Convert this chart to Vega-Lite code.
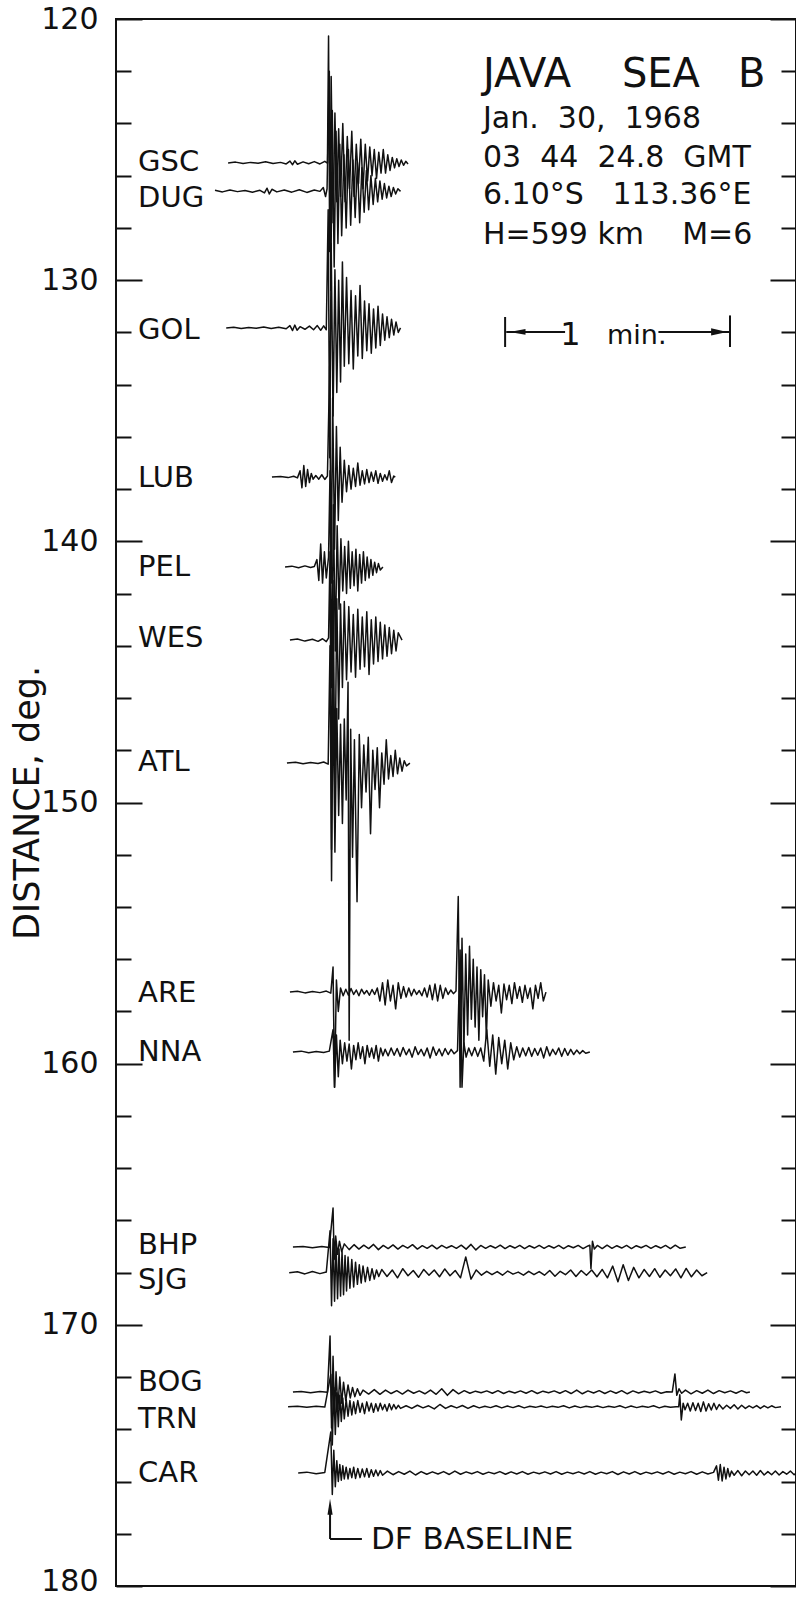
{
"$schema":"https://vega.github.io/schema/vega-lite/v6.json",
"width":680,"height":1567,
"autosize":{"type":"none"},
"padding":{"left":116,"top":19,"right":0,"bottom":14},
"background":"white",
"config":{"view":{"stroke":"#111","strokeWidth":2},"font":"DejaVu Sans"},
"resolve":{"axis":{"y":"independent"}},
"layer":[
{"data":{"values":[
{"s":"GSC","t":-28,"d":125.51},{"s":"GSC","t":-26,"d":125.48},{"s":"GSC","t":-24,"d":125.53},{"s":"GSC","t":-22,"d":125.49},{"s":"GSC","t":-20,"d":125.52},{"s":"GSC","t":-18,"d":125.47},{"s":"GSC","t":-16,"d":125.53},{"s":"GSC","t":-14,"d":125.49},{"s":"GSC","t":-12.5,"d":125.55},{"s":"GSC","t":-11.5,"d":125.44},{"s":"GSC","t":-10.8,"d":125.58},{"s":"GSC","t":-10.2,"d":125.43},{"s":"GSC","t":-9.5,"d":125.56},{"s":"GSC","t":-8,"d":125.47},{"s":"GSC","t":-6.5,"d":125.54},{"s":"GSC","t":-5,"d":125.46},{"s":"GSC","t":-3.5,"d":125.55},{"s":"GSC","t":-2.2,"d":125.45},{"s":"GSC","t":-1.5,"d":125.52},{"s":"GSC","t":-1.2,"d":120.65},{"s":"GSC","t":-0.9,"d":128.9},{"s":"GSC","t":-0.5,"d":122.2},{"s":"GSC","t":0,"d":127.8},{"s":"GSC","t":0.5,"d":123.6},{"s":"GSC","t":1,"d":127.0},{"s":"GSC","t":1.5,"d":124.2},{"s":"GSC","t":2,"d":126.8},{"s":"GSC","t":2.6,"d":124.0},{"s":"GSC","t":3.2,"d":127.0},{"s":"GSC","t":3.8,"d":124.5},{"s":"GSC","t":4.4,"d":126.5},{"s":"GSC","t":5,"d":124.3},{"s":"GSC","t":5.6,"d":126.8},{"s":"GSC","t":6.2,"d":124.8},{"s":"GSC","t":6.8,"d":126.3},{"s":"GSC","t":7.4,"d":124.6},{"s":"GSC","t":8,"d":126.5},{"s":"GSC","t":8.6,"d":124.8},{"s":"GSC","t":9.2,"d":126.2},{"s":"GSC","t":9.8,"d":124.9},{"s":"GSC","t":10.4,"d":126.0},{"s":"GSC","t":11,"d":125.0},{"s":"GSC","t":11.6,"d":126.1},{"s":"GSC","t":12.2,"d":125.1},{"s":"GSC","t":12.8,"d":125.9},{"s":"GSC","t":13.4,"d":125.0},{"s":"GSC","t":14,"d":125.9},{"s":"GSC","t":14.6,"d":125.2},{"s":"GSC","t":15.2,"d":125.8},{"s":"GSC","t":15.8,"d":125.3},{"s":"GSC","t":16.4,"d":125.7},{"s":"GSC","t":17,"d":125.35},{"s":"GSC","t":17.6,"d":125.65},{"s":"GSC","t":18.2,"d":125.4},{"s":"GSC","t":18.8,"d":125.6},{"s":"GSC","t":19.4,"d":125.45},{"s":"GSC","t":20,"d":125.55},
{"s":"DUG","t":-31.5,"d":126.56},{"s":"DUG","t":-29.5,"d":126.62},{"s":"DUG","t":-27.5,"d":126.55},{"s":"DUG","t":-25.5,"d":126.61},{"s":"DUG","t":-23.5,"d":126.57},{"s":"DUG","t":-21.5,"d":126.63},{"s":"DUG","t":-19.5,"d":126.56},{"s":"DUG","t":-18.3,"d":126.66},{"s":"DUG","t":-17.6,"d":126.48},{"s":"DUG","t":-17,"d":126.7},{"s":"DUG","t":-16.3,"d":126.52},{"s":"DUG","t":-15,"d":126.62},{"s":"DUG","t":-13,"d":126.55},{"s":"DUG","t":-11,"d":126.63},{"s":"DUG","t":-9,"d":126.54},{"s":"DUG","t":-7,"d":126.64},{"s":"DUG","t":-5,"d":126.55},{"s":"DUG","t":-3.5,"d":126.6},{"s":"DUG","t":-2.6,"d":126.45},{"s":"DUG","t":-2,"d":126.8},{"s":"DUG","t":-1.6,"d":126.5},{"s":"DUG","t":-1,"d":122.0},{"s":"DUG","t":-0.6,"d":130.4},{"s":"DUG","t":-0.2,"d":123.5},{"s":"DUG","t":0.3,"d":129.5},{"s":"DUG","t":0.8,"d":124.3},{"s":"DUG","t":1.3,"d":128.6},{"s":"DUG","t":1.8,"d":124.8},{"s":"DUG","t":2.3,"d":128.3},{"s":"DUG","t":2.9,"d":125.2},{"s":"DUG","t":3.5,"d":128.0},{"s":"DUG","t":4.1,"d":125.0},{"s":"DUG","t":4.7,"d":127.9},{"s":"DUG","t":5.3,"d":125.4},{"s":"DUG","t":5.9,"d":127.6},{"s":"DUG","t":6.5,"d":125.5},{"s":"DUG","t":7.1,"d":127.8},{"s":"DUG","t":7.7,"d":125.7},{"s":"DUG","t":8.3,"d":127.4},{"s":"DUG","t":8.9,"d":125.8},{"s":"DUG","t":9.5,"d":127.3},{"s":"DUG","t":10.1,"d":126.0},{"s":"DUG","t":10.7,"d":127.1},{"s":"DUG","t":11.3,"d":126.1},{"s":"DUG","t":11.9,"d":127.0},{"s":"DUG","t":12.5,"d":126.2},{"s":"DUG","t":13.1,"d":126.9},{"s":"DUG","t":13.7,"d":126.3},{"s":"DUG","t":14.3,"d":126.85},{"s":"DUG","t":14.9,"d":126.4},{"s":"DUG","t":15.5,"d":126.8},{"s":"DUG","t":16.1,"d":126.45},{"s":"DUG","t":16.7,"d":126.7},{"s":"DUG","t":17.3,"d":126.5},{"s":"DUG","t":18,"d":126.6},
{"s":"GOL","t":-28.5,"d":131.83},{"s":"GOL","t":-26.5,"d":131.8},{"s":"GOL","t":-24.5,"d":131.85},{"s":"GOL","t":-22.5,"d":131.81},{"s":"GOL","t":-20.5,"d":131.84},{"s":"GOL","t":-18.5,"d":131.79},{"s":"GOL","t":-16.5,"d":131.85},{"s":"GOL","t":-14.5,"d":131.8},{"s":"GOL","t":-12.5,"d":131.86},{"s":"GOL","t":-11.5,"d":131.74},{"s":"GOL","t":-10.8,"d":131.93},{"s":"GOL","t":-10.2,"d":131.72},{"s":"GOL","t":-9.6,"d":131.92},{"s":"GOL","t":-8.8,"d":131.78},{"s":"GOL","t":-7.5,"d":131.88},{"s":"GOL","t":-6.3,"d":131.76},{"s":"GOL","t":-5.2,"d":131.9},{"s":"GOL","t":-4.2,"d":131.74},{"s":"GOL","t":-3.3,"d":131.92},{"s":"GOL","t":-2.5,"d":131.75},{"s":"GOL","t":-1.8,"d":131.9},{"s":"GOL","t":-1.3,"d":127.3},{"s":"GOL","t":-0.9,"d":136.8},{"s":"GOL","t":-0.5,"d":128.6},{"s":"GOL","t":0,"d":135.2},{"s":"GOL","t":0.5,"d":129.6},{"s":"GOL","t":1,"d":134.3},{"s":"GOL","t":1.5,"d":130.0},{"s":"GOL","t":2,"d":133.9},{"s":"GOL","t":2.5,"d":129.3},{"s":"GOL","t":3,"d":133.3},{"s":"GOL","t":3.6,"d":129.9},{"s":"GOL","t":4.2,"d":133.2},{"s":"GOL","t":4.8,"d":130.4},{"s":"GOL","t":5.4,"d":133.4},{"s":"GOL","t":6,"d":130.6},{"s":"GOL","t":6.6,"d":132.9},{"s":"GOL","t":7.2,"d":130.2},{"s":"GOL","t":7.8,"d":133.0},{"s":"GOL","t":8.4,"d":130.8},{"s":"GOL","t":9,"d":132.7},{"s":"GOL","t":9.6,"d":130.9},{"s":"GOL","t":10.2,"d":132.8},{"s":"GOL","t":10.8,"d":131.1},{"s":"GOL","t":11.4,"d":132.6},{"s":"GOL","t":12,"d":131.0},{"s":"GOL","t":12.6,"d":132.5},{"s":"GOL","t":13.2,"d":131.3},{"s":"GOL","t":13.8,"d":132.3},{"s":"GOL","t":14.4,"d":131.4},{"s":"GOL","t":15,"d":132.2},{"s":"GOL","t":15.6,"d":131.5},{"s":"GOL","t":16.2,"d":132.1},{"s":"GOL","t":16.8,"d":131.6},{"s":"GOL","t":17.4,"d":132.0},{"s":"GOL","t":18,"d":131.83},
{"s":"LUB","t":-16.3,"d":137.54},{"s":"LUB","t":-14,"d":137.52},{"s":"LUB","t":-12,"d":137.56},{"s":"LUB","t":-10.5,"d":137.51},{"s":"LUB","t":-9.5,"d":137.57},{"s":"LUB","t":-8.8,"d":137.3},{"s":"LUB","t":-8.3,"d":137.95},{"s":"LUB","t":-7.8,"d":137.1},{"s":"LUB","t":-7.3,"d":137.9},{"s":"LUB","t":-6.8,"d":137.25},{"s":"LUB","t":-6.3,"d":137.75},{"s":"LUB","t":-5.8,"d":137.4},{"s":"LUB","t":-5.3,"d":137.62},{"s":"LUB","t":-4.6,"d":137.48},{"s":"LUB","t":-3.8,"d":137.62},{"s":"LUB","t":-3,"d":137.45},{"s":"LUB","t":-2.2,"d":137.63},{"s":"LUB","t":-1.5,"d":137.5},{"s":"LUB","t":-0.9,"d":133.3},{"s":"LUB","t":-0.5,"d":141.6},{"s":"LUB","t":-0.1,"d":134.5},{"s":"LUB","t":0.4,"d":140.3},{"s":"LUB","t":0.9,"d":135.6},{"s":"LUB","t":1.4,"d":139.2},{"s":"LUB","t":1.9,"d":136.4},{"s":"LUB","t":2.4,"d":138.5},{"s":"LUB","t":3,"d":136.9},{"s":"LUB","t":3.6,"d":138.1},{"s":"LUB","t":4.2,"d":137.1},{"s":"LUB","t":4.8,"d":138.0},{"s":"LUB","t":5.4,"d":137.2},{"s":"LUB","t":6,"d":137.9},{"s":"LUB","t":6.6,"d":137.0},{"s":"LUB","t":7.2,"d":137.85},{"s":"LUB","t":7.8,"d":137.3},{"s":"LUB","t":8.4,"d":137.8},{"s":"LUB","t":9,"d":137.25},{"s":"LUB","t":9.6,"d":137.75},{"s":"LUB","t":10.2,"d":137.35},{"s":"LUB","t":10.8,"d":137.7},{"s":"LUB","t":11.4,"d":137.3},{"s":"LUB","t":12,"d":137.78},{"s":"LUB","t":12.6,"d":137.4},{"s":"LUB","t":13.2,"d":137.7},{"s":"LUB","t":13.8,"d":137.45},{"s":"LUB","t":14.4,"d":137.65},{"s":"LUB","t":15,"d":137.3},{"s":"LUB","t":15.6,"d":137.75},{"s":"LUB","t":16.2,"d":137.5},{"s":"LUB","t":16.6,"d":137.54},
{"s":"PEL","t":-12.8,"d":140.98},{"s":"PEL","t":-11,"d":140.95},{"s":"PEL","t":-9.2,"d":141.01},{"s":"PEL","t":-7.5,"d":140.94},{"s":"PEL","t":-6,"d":141.0},{"s":"PEL","t":-5,"d":140.96},{"s":"PEL","t":-4.3,"d":140.7},{"s":"PEL","t":-3.8,"d":141.5},{"s":"PEL","t":-3.3,"d":140.1},{"s":"PEL","t":-2.8,"d":141.6},{"s":"PEL","t":-2.3,"d":140.4},{"s":"PEL","t":-1.8,"d":141.4},{"s":"PEL","t":-1.2,"d":140.6},{"s":"PEL","t":-0.8,"d":137.3},{"s":"PEL","t":-0.4,"d":145.6},{"s":"PEL","t":0.1,"d":138.6},{"s":"PEL","t":0.6,"d":144.2},{"s":"PEL","t":1.1,"d":139.4},{"s":"PEL","t":1.6,"d":142.6},{"s":"PEL","t":2.1,"d":139.9},{"s":"PEL","t":2.6,"d":141.9},{"s":"PEL","t":3.1,"d":140.2},{"s":"PEL","t":3.6,"d":142.0},{"s":"PEL","t":4.1,"d":140.0},{"s":"PEL","t":4.6,"d":141.8},{"s":"PEL","t":5.1,"d":140.4},{"s":"PEL","t":5.6,"d":141.7},{"s":"PEL","t":6.1,"d":140.3},{"s":"PEL","t":6.6,"d":141.9},{"s":"PEL","t":7.1,"d":140.5},{"s":"PEL","t":7.6,"d":141.6},{"s":"PEL","t":8.1,"d":140.4},{"s":"PEL","t":8.6,"d":141.5},{"s":"PEL","t":9.1,"d":140.6},{"s":"PEL","t":9.6,"d":141.4},{"s":"PEL","t":10.1,"d":140.7},{"s":"PEL","t":10.6,"d":141.3},{"s":"PEL","t":11.1,"d":140.8},{"s":"PEL","t":11.6,"d":141.2},{"s":"PEL","t":12.1,"d":140.85},{"s":"PEL","t":12.6,"d":141.1},{"s":"PEL","t":13.3,"d":140.98},
{"s":"WES","t":-11.5,"d":143.78},{"s":"WES","t":-9.5,"d":143.74},{"s":"WES","t":-7.5,"d":143.82},{"s":"WES","t":-5.5,"d":143.75},{"s":"WES","t":-4,"d":143.83},{"s":"WES","t":-2.8,"d":143.73},{"s":"WES","t":-1.8,"d":143.84},{"s":"WES","t":-1.2,"d":143.7},{"s":"WES","t":-0.8,"d":140.4},{"s":"WES","t":-0.4,"d":151.8},{"s":"WES","t":0,"d":141.5},{"s":"WES","t":0.5,"d":149.5},{"s":"WES","t":1,"d":142.2},{"s":"WES","t":1.5,"d":146.8},{"s":"WES","t":2,"d":142.4},{"s":"WES","t":2.5,"d":145.6},{"s":"WES","t":3,"d":142.3},{"s":"WES","t":3.6,"d":145.3},{"s":"WES","t":4.2,"d":142.5},{"s":"WES","t":4.8,"d":145.0},{"s":"WES","t":5.4,"d":142.8},{"s":"WES","t":6,"d":145.2},{"s":"WES","t":6.6,"d":142.6},{"s":"WES","t":7.2,"d":144.9},{"s":"WES","t":7.8,"d":142.9},{"s":"WES","t":8.4,"d":144.8},{"s":"WES","t":9,"d":142.7},{"s":"WES","t":9.6,"d":145.1},{"s":"WES","t":10.2,"d":143.0},{"s":"WES","t":10.8,"d":144.7},{"s":"WES","t":11.4,"d":142.9},{"s":"WES","t":12,"d":144.6},{"s":"WES","t":12.6,"d":143.1},{"s":"WES","t":13.2,"d":144.5},{"s":"WES","t":13.8,"d":143.2},{"s":"WES","t":14.4,"d":144.4},{"s":"WES","t":15,"d":143.3},{"s":"WES","t":15.6,"d":144.3},{"s":"WES","t":16.2,"d":143.4},{"s":"WES","t":16.8,"d":144.2},{"s":"WES","t":17.4,"d":143.5},{"s":"WES","t":18.4,"d":143.78},
{"s":"ATL","t":-12.3,"d":148.49},{"s":"ATL","t":-10,"d":148.46},{"s":"ATL","t":-8,"d":148.52},{"s":"ATL","t":-6,"d":148.47},{"s":"ATL","t":-4,"d":148.51},{"s":"ATL","t":-2.5,"d":148.45},{"s":"ATL","t":-1.3,"d":148.53},{"s":"ATL","t":-0.8,"d":144.0},{"s":"ATL","t":-0.4,"d":153.0},{"s":"ATL","t":0,"d":145.5},{"s":"ATL","t":0.5,"d":151.9},{"s":"ATL","t":1,"d":146.4},{"s":"ATL","t":1.5,"d":150.5},{"s":"ATL","t":2,"d":147.0},{"s":"ATL","t":2.5,"d":150.8},{"s":"ATL","t":3,"d":146.8},{"s":"ATL","t":3.5,"d":149.9},{"s":"ATL","t":4,"d":145.4},{"s":"ATL","t":4.3,"d":159.1},{"s":"ATL","t":4.7,"d":147.2},{"s":"ATL","t":5.2,"d":152.1},{"s":"ATL","t":5.7,"d":147.6},{"s":"ATL","t":6.4,"d":153.8},{"s":"ATL","t":7,"d":147.4},{"s":"ATL","t":7.6,"d":150.2},{"s":"ATL","t":8.2,"d":147.8},{"s":"ATL","t":8.8,"d":149.6},{"s":"ATL","t":9.4,"d":147.5},{"s":"ATL","t":10,"d":151.2},{"s":"ATL","t":10.6,"d":148.0},{"s":"ATL","t":11.2,"d":149.5},{"s":"ATL","t":11.8,"d":147.9},{"s":"ATL","t":12.4,"d":150.2},{"s":"ATL","t":13,"d":148.1},{"s":"ATL","t":13.6,"d":149.3},{"s":"ATL","t":14.2,"d":147.6},{"s":"ATL","t":14.8,"d":149.1},{"s":"ATL","t":15.4,"d":148.2},{"s":"ATL","t":16,"d":149.0},{"s":"ATL","t":16.6,"d":148.0},{"s":"ATL","t":17.2,"d":148.9},{"s":"ATL","t":17.8,"d":148.3},{"s":"ATL","t":18.4,"d":148.8},{"s":"ATL","t":19,"d":148.4},{"s":"ATL","t":19.6,"d":148.6},{"s":"ATL","t":20.5,"d":148.49},
{"s":"ARE","t":-11.5,"d":157.26},{"s":"ARE","t":-9.5,"d":157.23},{"s":"ARE","t":-7.5,"d":157.29},{"s":"ARE","t":-5.5,"d":157.24},{"s":"ARE","t":-3.5,"d":157.28},{"s":"ARE","t":-1.8,"d":157.22},{"s":"ARE","t":-0.6,"d":157.3},{"s":"ARE","t":0,"d":156.3},{"s":"ARE","t":0.4,"d":160.9},{"s":"ARE","t":0.9,"d":156.8},{"s":"ARE","t":1.4,"d":158.0},{"s":"ARE","t":2,"d":157.1},{"s":"ARE","t":2.7,"d":157.4},{"s":"ARE","t":3.4,"d":157.15},{"s":"ARE","t":4.1,"d":157.38},{"s":"ARE","t":4.8,"d":157.12},{"s":"ARE","t":5.5,"d":157.35},{"s":"ARE","t":6.2,"d":157.18},{"s":"ARE","t":6.9,"d":157.4},{"s":"ARE","t":7.6,"d":157.15},{"s":"ARE","t":8.3,"d":157.33},{"s":"ARE","t":9,"d":157.2},{"s":"ARE","t":9.7,"d":157.38},{"s":"ARE","t":10.4,"d":157.16},{"s":"ARE","t":11.1,"d":157.35},{"s":"ARE","t":11.8,"d":157.1},{"s":"ARE","t":12.5,"d":157.6},{"s":"ARE","t":13.2,"d":156.9},{"s":"ARE","t":13.9,"d":157.75},{"s":"ARE","t":14.6,"d":156.8},{"s":"ARE","t":15.3,"d":157.6},{"s":"ARE","t":16,"d":157.0},{"s":"ARE","t":16.7,"d":157.9},{"s":"ARE","t":17.4,"d":156.9},{"s":"ARE","t":18.1,"d":157.5},{"s":"ARE","t":18.8,"d":157.05},{"s":"ARE","t":19.5,"d":157.45},{"s":"ARE","t":20.2,"d":157.1},{"s":"ARE","t":20.9,"d":157.4},{"s":"ARE","t":21.6,"d":157.15},{"s":"ARE","t":22.3,"d":157.35},{"s":"ARE","t":23,"d":157.2},{"s":"ARE","t":23.7,"d":157.4},{"s":"ARE","t":24.4,"d":157.1},{"s":"ARE","t":25.1,"d":157.45},{"s":"ARE","t":25.8,"d":157.0},{"s":"ARE","t":26.5,"d":157.55},{"s":"ARE","t":27.2,"d":156.95},{"s":"ARE","t":27.9,"d":157.6},{"s":"ARE","t":28.6,"d":157.0},{"s":"ARE","t":29.3,"d":157.5},{"s":"ARE","t":30,"d":157.1},{"s":"ARE","t":30.7,"d":157.35},{"s":"ARE","t":31.4,"d":157.18},{"s":"ARE","t":32.1,"d":157.32},{"s":"ARE","t":32.8,"d":157.22},{"s":"ARE","t":33.4,"d":153.6},{"s":"ARE","t":33.9,"d":160.9},{"s":"ARE","t":34.4,"d":155.2},{"s":"ARE","t":34.9,"d":159.5},{"s":"ARE","t":35.4,"d":155.8},{"s":"ARE","t":35.9,"d":158.9},{"s":"ARE","t":36.4,"d":155.5},{"s":"ARE","t":36.9,"d":158.3},{"s":"ARE","t":37.4,"d":156.0},{"s":"ARE","t":37.9,"d":158.6},{"s":"ARE","t":38.4,"d":156.3},{"s":"ARE","t":38.9,"d":159.1},{"s":"ARE","t":39.4,"d":156.4},{"s":"ARE","t":39.9,"d":158.2},{"s":"ARE","t":40.4,"d":156.6},{"s":"ARE","t":40.9,"d":159.0},{"s":"ARE","t":41.4,"d":156.8},{"s":"ARE","t":42.1,"d":157.8},{"s":"ARE","t":42.8,"d":156.9},{"s":"ARE","t":43.5,"d":157.6},{"s":"ARE","t":44.2,"d":157.0},{"s":"ARE","t":44.9,"d":158.06},{"s":"ARE","t":45.6,"d":156.95},{"s":"ARE","t":46.3,"d":157.55},{"s":"ARE","t":47,"d":157.0},{"s":"ARE","t":47.7,"d":157.7},{"s":"ARE","t":48.4,"d":156.9},{"s":"ARE","t":49.1,"d":157.5},{"s":"ARE","t":49.8,"d":157.05},{"s":"ARE","t":50.5,"d":157.65},{"s":"ARE","t":51.2,"d":157.0},{"s":"ARE","t":51.9,"d":157.5},{"s":"ARE","t":52.6,"d":157.1},{"s":"ARE","t":53.3,"d":157.9},{"s":"ARE","t":54,"d":157.0},{"s":"ARE","t":54.7,"d":157.5},{"s":"ARE","t":55.4,"d":156.9},{"s":"ARE","t":56.1,"d":157.6},{"s":"ARE","t":56.8,"d":157.26},
{"s":"NNA","t":-10.7,"d":159.55},{"s":"NNA","t":-8.5,"d":159.52},{"s":"NNA","t":-6.5,"d":159.58},{"s":"NNA","t":-4.5,"d":159.53},{"s":"NNA","t":-2.5,"d":159.57},{"s":"NNA","t":-1,"d":159.52},{"s":"NNA","t":0,"d":158.7},{"s":"NNA","t":0.4,"d":160.9},{"s":"NNA","t":0.9,"d":158.9},{"s":"NNA","t":1.4,"d":160.5},{"s":"NNA","t":1.9,"d":159.1},{"s":"NNA","t":2.5,"d":160.0},{"s":"NNA","t":3.1,"d":159.2},{"s":"NNA","t":3.7,"d":159.9},{"s":"NNA","t":4.3,"d":159.25},{"s":"NNA","t":4.9,"d":160.2},{"s":"NNA","t":5.5,"d":159.3},{"s":"NNA","t":6.1,"d":159.85},{"s":"NNA","t":6.7,"d":159.2},{"s":"NNA","t":7.3,"d":159.8},{"s":"NNA","t":7.9,"d":159.35},{"s":"NNA","t":8.5,"d":160.0},{"s":"NNA","t":9.1,"d":159.3},{"s":"NNA","t":9.7,"d":159.75},{"s":"NNA","t":10.3,"d":159.4},{"s":"NNA","t":10.9,"d":159.8},{"s":"NNA","t":11.5,"d":159.3},{"s":"NNA","t":12.1,"d":159.9},{"s":"NNA","t":12.7,"d":159.4},{"s":"NNA","t":13.3,"d":159.7},{"s":"NNA","t":13.9,"d":159.45},{"s":"NNA","t":14.7,"d":159.7},{"s":"NNA","t":15.5,"d":159.4},{"s":"NNA","t":16.3,"d":159.68},{"s":"NNA","t":17.1,"d":159.42},{"s":"NNA","t":17.9,"d":159.72},{"s":"NNA","t":18.7,"d":159.38},{"s":"NNA","t":19.5,"d":159.66},{"s":"NNA","t":20.3,"d":159.44},{"s":"NNA","t":21.1,"d":159.75},{"s":"NNA","t":21.9,"d":159.35},{"s":"NNA","t":22.7,"d":159.65},{"s":"NNA","t":23.5,"d":159.45},{"s":"NNA","t":24.3,"d":159.7},{"s":"NNA","t":25.1,"d":159.4},{"s":"NNA","t":25.9,"d":159.78},{"s":"NNA","t":26.7,"d":159.36},{"s":"NNA","t":27.5,"d":159.68},{"s":"NNA","t":28.3,"d":159.44},{"s":"NNA","t":29.1,"d":159.7},{"s":"NNA","t":29.9,"d":159.42},{"s":"NNA","t":30.7,"d":159.65},{"s":"NNA","t":31.5,"d":159.45},{"s":"NNA","t":32.3,"d":159.62},{"s":"NNA","t":33.2,"d":159.5},{"s":"NNA","t":33.9,"d":155.65},{"s":"NNA","t":34.4,"d":160.9},{"s":"NNA","t":34.9,"d":159.2},{"s":"NNA","t":35.5,"d":159.75},{"s":"NNA","t":36.2,"d":159.4},{"s":"NNA","t":37,"d":159.7},{"s":"NNA","t":37.8,"d":159.38},{"s":"NNA","t":38.6,"d":159.72},{"s":"NNA","t":39.4,"d":159.4},{"s":"NNA","t":40.2,"d":159.9},{"s":"NNA","t":41,"d":158.7},{"s":"NNA","t":41.8,"d":160.1},{"s":"NNA","t":42.6,"d":158.9},{"s":"NNA","t":43.4,"d":160.4},{"s":"NNA","t":44.2,"d":159.0},{"s":"NNA","t":45,"d":160.0},{"s":"NNA","t":45.8,"d":159.1},{"s":"NNA","t":46.6,"d":160.2},{"s":"NNA","t":47.4,"d":159.2},{"s":"NNA","t":48.2,"d":159.85},{"s":"NNA","t":49,"d":159.35},{"s":"NNA","t":49.8,"d":159.75},{"s":"NNA","t":50.6,"d":159.4},{"s":"NNA","t":51.4,"d":159.7},{"s":"NNA","t":52.2,"d":159.38},{"s":"NNA","t":53,"d":159.72},{"s":"NNA","t":53.8,"d":159.42},{"s":"NNA","t":54.6,"d":159.68},{"s":"NNA","t":55.4,"d":159.4},{"s":"NNA","t":56.2,"d":159.78},{"s":"NNA","t":57,"d":159.35},{"s":"NNA","t":57.8,"d":159.7},{"s":"NNA","t":58.6,"d":159.45},{"s":"NNA","t":59.4,"d":159.65},{"s":"NNA","t":60.2,"d":159.4},{"s":"NNA","t":61,"d":159.72},{"s":"NNA","t":61.8,"d":159.42},{"s":"NNA","t":62.6,"d":159.68},{"s":"NNA","t":63.4,"d":159.45},{"s":"NNA","t":64.2,"d":159.65},{"s":"NNA","t":65,"d":159.48},{"s":"NNA","t":65.8,"d":159.62},{"s":"NNA","t":66.6,"d":159.5},{"s":"NNA","t":67.4,"d":159.6},{"s":"NNA","t":68.5,"d":159.55},
{"s":"BHP","t":-10.7,"d":167.02},{"s":"BHP","t":-8,"d":167.0},{"s":"BHP","t":-5.5,"d":167.05},{"s":"BHP","t":-3,"d":167.0},{"s":"BHP","t":-1,"d":167.04},{"s":"BHP","t":0,"d":165.53},{"s":"BHP","t":0.3,"d":167.5},{"s":"BHP","t":0.7,"d":166.6},{"s":"BHP","t":1.2,"d":167.3},{"s":"BHP","t":1.7,"d":166.8},{"s":"BHP","t":2.3,"d":167.2},{"s":"BHP","t":3,"d":166.9},{"s":"BHP","t":4.3,"d":167.12},{"s":"BHP","t":5.6,"d":166.93},{"s":"BHP","t":6.9,"d":167.1},{"s":"BHP","t":8.2,"d":166.95},{"s":"BHP","t":9.5,"d":167.08},{"s":"BHP","t":10.8,"d":166.92},{"s":"BHP","t":12.1,"d":167.12},{"s":"BHP","t":13.4,"d":166.96},{"s":"BHP","t":14.7,"d":167.08},{"s":"BHP","t":16,"d":166.94},{"s":"BHP","t":17.3,"d":167.1},{"s":"BHP","t":18.6,"d":166.96},{"s":"BHP","t":19.9,"d":167.06},{"s":"BHP","t":21.2,"d":166.93},{"s":"BHP","t":22.5,"d":167.1},{"s":"BHP","t":23.8,"d":166.97},{"s":"BHP","t":25.1,"d":167.07},{"s":"BHP","t":26.4,"d":166.95},{"s":"BHP","t":27.7,"d":167.09},{"s":"BHP","t":29,"d":166.96},{"s":"BHP","t":30.3,"d":167.06},{"s":"BHP","t":31.6,"d":166.97},{"s":"BHP","t":32.9,"d":167.07},{"s":"BHP","t":34.2,"d":166.95},{"s":"BHP","t":35.5,"d":167.1},{"s":"BHP","t":36.8,"d":166.92},{"s":"BHP","t":38.1,"d":167.13},{"s":"BHP","t":39.4,"d":166.96},{"s":"BHP","t":40.7,"d":167.07},{"s":"BHP","t":42,"d":166.97},{"s":"BHP","t":43.3,"d":167.06},{"s":"BHP","t":44.6,"d":166.95},{"s":"BHP","t":45.9,"d":167.08},{"s":"BHP","t":47.2,"d":166.97},{"s":"BHP","t":48.5,"d":167.06},{"s":"BHP","t":49.8,"d":166.96},{"s":"BHP","t":51.1,"d":167.08},{"s":"BHP","t":52.4,"d":166.97},{"s":"BHP","t":53.7,"d":167.06},{"s":"BHP","t":55,"d":166.96},{"s":"BHP","t":56.3,"d":167.07},{"s":"BHP","t":57.6,"d":166.97},{"s":"BHP","t":58.9,"d":167.06},{"s":"BHP","t":60.2,"d":166.96},{"s":"BHP","t":61.5,"d":167.08},{"s":"BHP","t":62.8,"d":166.97},{"s":"BHP","t":64.1,"d":167.05},{"s":"BHP","t":65.4,"d":166.96},{"s":"BHP","t":66.7,"d":167.08},{"s":"BHP","t":68,"d":166.98},{"s":"BHP","t":68.5,"d":166.95},{"s":"BHP","t":68.8,"d":167.85},{"s":"BHP","t":69.2,"d":166.8},{"s":"BHP","t":69.7,"d":167.1},{"s":"BHP","t":70.5,"d":166.96},{"s":"BHP","t":71.8,"d":167.08},{"s":"BHP","t":73.1,"d":166.95},{"s":"BHP","t":74.4,"d":167.07},{"s":"BHP","t":75.7,"d":166.97},{"s":"BHP","t":77,"d":167.06},{"s":"BHP","t":78.3,"d":166.96},{"s":"BHP","t":79.6,"d":167.08},{"s":"BHP","t":80.9,"d":166.97},{"s":"BHP","t":82.2,"d":167.05},{"s":"BHP","t":83.5,"d":166.96},{"s":"BHP","t":84.8,"d":167.07},{"s":"BHP","t":86.1,"d":166.97},{"s":"BHP","t":87.4,"d":167.06},{"s":"BHP","t":88.7,"d":166.96},{"s":"BHP","t":90,"d":167.08},{"s":"BHP","t":91.3,"d":166.95},{"s":"BHP","t":92.6,"d":167.07},{"s":"BHP","t":94.1,"d":167.02},
{"s":"SJG","t":-11.7,"d":168.01},{"s":"SJG","t":-9.5,"d":167.97},{"s":"SJG","t":-7.5,"d":168.05},{"s":"SJG","t":-5.5,"d":167.96},{"s":"SJG","t":-3.5,"d":168.04},{"s":"SJG","t":-1.8,"d":167.98},{"s":"SJG","t":-0.8,"d":166.4},{"s":"SJG","t":-0.4,"d":169.27},{"s":"SJG","t":0,"d":166.7},{"s":"SJG","t":0.4,"d":169.1},{"s":"SJG","t":0.8,"d":166.9},{"s":"SJG","t":1.2,"d":169.0},{"s":"SJG","t":1.6,"d":167.1},{"s":"SJG","t":2,"d":168.9},{"s":"SJG","t":2.4,"d":167.2},{"s":"SJG","t":2.8,"d":168.85},{"s":"SJG","t":3.2,"d":167.35},{"s":"SJG","t":3.6,"d":168.7},{"s":"SJG","t":4,"d":167.4},{"s":"SJG","t":4.5,"d":168.6},{"s":"SJG","t":5,"d":167.5},{"s":"SJG","t":5.5,"d":168.55},{"s":"SJG","t":6,"d":167.6},{"s":"SJG","t":6.5,"d":168.45},{"s":"SJG","t":7,"d":167.7},{"s":"SJG","t":7.5,"d":168.4},{"s":"SJG","t":8,"d":167.75},{"s":"SJG","t":8.6,"d":168.35},{"s":"SJG","t":9.2,"d":167.8},{"s":"SJG","t":9.8,"d":168.3},{"s":"SJG","t":10.4,"d":167.85},{"s":"SJG","t":11,"d":168.25},{"s":"SJG","t":11.6,"d":167.9},{"s":"SJG","t":12.2,"d":168.15},{"s":"SJG","t":13,"d":167.88},{"s":"SJG","t":14.4,"d":168.15},{"s":"SJG","t":15.8,"d":167.9},{"s":"SJG","t":17.2,"d":168.2},{"s":"SJG","t":18.6,"d":167.85},{"s":"SJG","t":20,"d":168.12},{"s":"SJG","t":21.4,"d":167.92},{"s":"SJG","t":22.8,"d":168.18},{"s":"SJG","t":24.2,"d":167.88},{"s":"SJG","t":25.6,"d":168.1},{"s":"SJG","t":27,"d":167.9},{"s":"SJG","t":28.4,"d":168.16},{"s":"SJG","t":29.8,"d":167.86},{"s":"SJG","t":31.2,"d":168.12},{"s":"SJG","t":32.6,"d":167.92},{"s":"SJG","t":34,"d":168.2},{"s":"SJG","t":35.4,"d":167.4},{"s":"SJG","t":36.8,"d":168.25},{"s":"SJG","t":38.2,"d":167.9},{"s":"SJG","t":39.6,"d":168.1},{"s":"SJG","t":41,"d":167.95},{"s":"SJG","t":42.4,"d":168.08},{"s":"SJG","t":43.8,"d":167.96},{"s":"SJG","t":45.2,"d":168.1},{"s":"SJG","t":46.6,"d":167.94},{"s":"SJG","t":48,"d":168.06},{"s":"SJG","t":49.4,"d":167.98},{"s":"SJG","t":50.8,"d":168.1},{"s":"SJG","t":52.2,"d":167.95},{"s":"SJG","t":53.6,"d":168.08},{"s":"SJG","t":55,"d":167.96},{"s":"SJG","t":56.4,"d":168.1},{"s":"SJG","t":57.8,"d":167.92},{"s":"SJG","t":59.2,"d":168.14},{"s":"SJG","t":60.6,"d":167.95},{"s":"SJG","t":62,"d":168.08},{"s":"SJG","t":63.4,"d":167.9},{"s":"SJG","t":64.8,"d":168.15},{"s":"SJG","t":66.2,"d":167.92},{"s":"SJG","t":67.6,"d":168.1},{"s":"SJG","t":69,"d":167.9},{"s":"SJG","t":70.4,"d":168.16},{"s":"SJG","t":71.8,"d":167.88},{"s":"SJG","t":73.2,"d":168.2},{"s":"SJG","t":74.6,"d":167.75},{"s":"SJG","t":76,"d":168.35},{"s":"SJG","t":77.4,"d":167.7},{"s":"SJG","t":78.8,"d":168.3},{"s":"SJG","t":80.2,"d":167.8},{"s":"SJG","t":81.6,"d":168.2},{"s":"SJG","t":83,"d":167.88},{"s":"SJG","t":84.4,"d":168.15},{"s":"SJG","t":85.8,"d":167.85},{"s":"SJG","t":87.2,"d":168.18},{"s":"SJG","t":88.6,"d":167.9},{"s":"SJG","t":90,"d":168.12},{"s":"SJG","t":91.4,"d":167.86},{"s":"SJG","t":92.8,"d":168.2},{"s":"SJG","t":94.2,"d":167.84},{"s":"SJG","t":95.6,"d":168.16},{"s":"SJG","t":97,"d":167.9},{"s":"SJG","t":98.4,"d":168.12},{"s":"SJG","t":99.8,"d":168.0},
{"s":"BOG","t":-10.7,"d":172.57},{"s":"BOG","t":-8.5,"d":172.55},{"s":"BOG","t":-6,"d":172.6},{"s":"BOG","t":-3.5,"d":172.55},{"s":"BOG","t":-1.5,"d":172.58},{"s":"BOG","t":-0.8,"d":170.43},{"s":"BOG","t":-0.4,"d":173.95},{"s":"BOG","t":0,"d":171.2},{"s":"BOG","t":0.4,"d":173.5},{"s":"BOG","t":0.8,"d":171.8},{"s":"BOG","t":1.3,"d":173.2},{"s":"BOG","t":1.8,"d":172.0},{"s":"BOG","t":2.3,"d":173.0},{"s":"BOG","t":2.8,"d":172.2},{"s":"BOG","t":3.4,"d":172.9},{"s":"BOG","t":4,"d":172.3},{"s":"BOG","t":4.6,"d":172.8},{"s":"BOG","t":5.2,"d":172.4},{"s":"BOG","t":5.8,"d":172.75},{"s":"BOG","t":6.5,"d":172.45},{"s":"BOG","t":7.2,"d":172.7},{"s":"BOG","t":8,"d":172.5},{"s":"BOG","t":9.5,"d":172.65},{"s":"BOG","t":11,"d":172.48},{"s":"BOG","t":12.5,"d":172.66},{"s":"BOG","t":14,"d":172.5},{"s":"BOG","t":15.5,"d":172.63},{"s":"BOG","t":17,"d":172.52},{"s":"BOG","t":18.5,"d":172.65},{"s":"BOG","t":20,"d":172.5},{"s":"BOG","t":21.5,"d":172.62},{"s":"BOG","t":23,"d":172.53},{"s":"BOG","t":24.5,"d":172.64},{"s":"BOG","t":26,"d":172.5},{"s":"BOG","t":27.5,"d":172.66},{"s":"BOG","t":29,"d":172.45},{"s":"BOG","t":30.5,"d":172.7},{"s":"BOG","t":32,"d":172.48},{"s":"BOG","t":33.5,"d":172.64},{"s":"BOG","t":35,"d":172.52},{"s":"BOG","t":36.5,"d":172.62},{"s":"BOG","t":38,"d":172.54},{"s":"BOG","t":39.5,"d":172.6},{"s":"BOG","t":41,"d":172.53},{"s":"BOG","t":42.5,"d":172.62},{"s":"BOG","t":44,"d":172.52},{"s":"BOG","t":45.5,"d":172.63},{"s":"BOG","t":47,"d":172.54},{"s":"BOG","t":48.5,"d":172.61},{"s":"BOG","t":50,"d":172.53},{"s":"BOG","t":51.5,"d":172.62},{"s":"BOG","t":53,"d":172.52},{"s":"BOG","t":54.5,"d":172.63},{"s":"BOG","t":56,"d":172.54},{"s":"BOG","t":57.5,"d":172.6},{"s":"BOG","t":59,"d":172.53},{"s":"BOG","t":60.5,"d":172.62},{"s":"BOG","t":62,"d":172.52},{"s":"BOG","t":63.5,"d":172.63},{"s":"BOG","t":65,"d":172.5},{"s":"BOG","t":66.5,"d":172.64},{"s":"BOG","t":68,"d":172.53},{"s":"BOG","t":69.5,"d":172.61},{"s":"BOG","t":71,"d":172.52},{"s":"BOG","t":72.5,"d":172.63},{"s":"BOG","t":74,"d":172.53},{"s":"BOG","t":75.5,"d":172.62},{"s":"BOG","t":77,"d":172.52},{"s":"BOG","t":78.5,"d":172.64},{"s":"BOG","t":80,"d":172.53},{"s":"BOG","t":81.5,"d":172.61},{"s":"BOG","t":83,"d":172.54},{"s":"BOG","t":84.5,"d":172.6},{"s":"BOG","t":86,"d":172.53},{"s":"BOG","t":87.5,"d":172.62},{"s":"BOG","t":89,"d":172.56},{"s":"BOG","t":90.5,"d":172.57},{"s":"BOG","t":91.2,"d":171.88},{"s":"BOG","t":91.7,"d":172.7},{"s":"BOG","t":92.3,"d":172.45},{"s":"BOG","t":93,"d":172.62},{"s":"BOG","t":94,"d":172.5},{"s":"BOG","t":95.5,"d":172.64},{"s":"BOG","t":97,"d":172.52},{"s":"BOG","t":98.5,"d":172.62},{"s":"BOG","t":100,"d":172.5},{"s":"BOG","t":101.5,"d":172.63},{"s":"BOG","t":103,"d":172.52},{"s":"BOG","t":104.5,"d":172.6},{"s":"BOG","t":106,"d":172.53},{"s":"BOG","t":107.5,"d":172.62},{"s":"BOG","t":109,"d":172.52},{"s":"BOG","t":110.3,"d":172.6},{"s":"BOG","t":111.2,"d":172.57},
{"s":"TRN","t":-12,"d":173.14},{"s":"TRN","t":-9.5,"d":173.12},{"s":"TRN","t":-7,"d":173.16},{"s":"TRN","t":-4.5,"d":173.12},{"s":"TRN","t":-2.2,"d":173.15},{"s":"TRN","t":-0.6,"d":171.9},{"s":"TRN","t":-0.2,"d":174.6},{"s":"TRN","t":0.2,"d":172.4},{"s":"TRN","t":0.6,"d":174.2},{"s":"TRN","t":1,"d":172.6},{"s":"TRN","t":1.4,"d":173.9},{"s":"TRN","t":1.8,"d":172.7},{"s":"TRN","t":2.2,"d":173.7},{"s":"TRN","t":2.6,"d":172.8},{"s":"TRN","t":3,"d":173.6},{"s":"TRN","t":3.5,"d":172.85},{"s":"TRN","t":4,"d":173.5},{"s":"TRN","t":4.5,"d":172.9},{"s":"TRN","t":5,"d":173.45},{"s":"TRN","t":5.5,"d":172.95},{"s":"TRN","t":6,"d":173.4},{"s":"TRN","t":6.6,"d":172.9},{"s":"TRN","t":7.2,"d":173.35},{"s":"TRN","t":7.8,"d":173.0},{"s":"TRN","t":8.4,"d":173.4},{"s":"TRN","t":9,"d":172.95},{"s":"TRN","t":9.6,"d":173.3},{"s":"TRN","t":10.2,"d":173.0},{"s":"TRN","t":10.8,"d":173.35},{"s":"TRN","t":11.4,"d":173.02},{"s":"TRN","t":12,"d":173.3},{"s":"TRN","t":12.6,"d":173.0},{"s":"TRN","t":13.2,"d":173.25},{"s":"TRN","t":13.8,"d":173.05},{"s":"TRN","t":14.4,"d":173.3},{"s":"TRN","t":15,"d":173.02},{"s":"TRN","t":15.6,"d":173.25},{"s":"TRN","t":16.2,"d":173.05},{"s":"TRN","t":16.8,"d":173.22},{"s":"TRN","t":17.4,"d":173.08},{"s":"TRN","t":18,"d":173.2},{"s":"TRN","t":19.5,"d":173.1},{"s":"TRN","t":21,"d":173.2},{"s":"TRN","t":22.5,"d":173.08},{"s":"TRN","t":24,"d":173.18},{"s":"TRN","t":25.5,"d":173.1},{"s":"TRN","t":27,"d":173.22},{"s":"TRN","t":28.5,"d":173.05},{"s":"TRN","t":30,"d":173.2},{"s":"TRN","t":31.5,"d":173.1},{"s":"TRN","t":33,"d":173.18},{"s":"TRN","t":34.5,"d":173.09},{"s":"TRN","t":36,"d":173.2},{"s":"TRN","t":37.5,"d":173.1},{"s":"TRN","t":39,"d":173.18},{"s":"TRN","t":40.5,"d":173.12},{"s":"TRN","t":42,"d":173.17},{"s":"TRN","t":43.5,"d":173.1},{"s":"TRN","t":45,"d":173.18},{"s":"TRN","t":46.5,"d":173.11},{"s":"TRN","t":48,"d":173.17},{"s":"TRN","t":49.5,"d":173.1},{"s":"TRN","t":51,"d":173.18},{"s":"TRN","t":52.5,"d":173.12},{"s":"TRN","t":54,"d":173.16},{"s":"TRN","t":55.5,"d":173.11},{"s":"TRN","t":57,"d":173.17},{"s":"TRN","t":58.5,"d":173.12},{"s":"TRN","t":60,"d":173.16},{"s":"TRN","t":61.5,"d":173.1},{"s":"TRN","t":63,"d":173.18},{"s":"TRN","t":64.5,"d":173.11},{"s":"TRN","t":66,"d":173.17},{"s":"TRN","t":67.5,"d":173.12},{"s":"TRN","t":69,"d":173.16},{"s":"TRN","t":70.5,"d":173.11},{"s":"TRN","t":72,"d":173.17},{"s":"TRN","t":73.5,"d":173.12},{"s":"TRN","t":75,"d":173.16},{"s":"TRN","t":76.5,"d":173.1},{"s":"TRN","t":78,"d":173.18},{"s":"TRN","t":79.5,"d":173.11},{"s":"TRN","t":81,"d":173.17},{"s":"TRN","t":82.5,"d":173.12},{"s":"TRN","t":84,"d":173.16},{"s":"TRN","t":85.5,"d":173.1},{"s":"TRN","t":87,"d":173.18},{"s":"TRN","t":88.5,"d":173.12},{"s":"TRN","t":90,"d":173.16},{"s":"TRN","t":91.5,"d":173.14},{"s":"TRN","t":92.2,"d":173.14},{"s":"TRN","t":92.5,"d":172.68},{"s":"TRN","t":92.9,"d":173.64},{"s":"TRN","t":93.4,"d":173.0},{"s":"TRN","t":93.9,"d":173.25},{"s":"TRN","t":94.6,"d":173.0},{"s":"TRN","t":95.3,"d":173.3},{"s":"TRN","t":96,"d":172.98},{"s":"TRN","t":96.7,"d":173.28},{"s":"TRN","t":97.4,"d":173.0},{"s":"TRN","t":98.1,"d":173.32},{"s":"TRN","t":98.8,"d":172.95},{"s":"TRN","t":99.5,"d":173.3},{"s":"TRN","t":100.2,"d":173.02},{"s":"TRN","t":100.9,"d":173.26},{"s":"TRN","t":101.6,"d":173.0},{"s":"TRN","t":102.3,"d":173.24},{"s":"TRN","t":103,"d":173.05},{"s":"TRN","t":104,"d":173.22},{"s":"TRN","t":105,"d":173.08},{"s":"TRN","t":106,"d":173.2},{"s":"TRN","t":107,"d":173.06},{"s":"TRN","t":108,"d":173.22},{"s":"TRN","t":109,"d":173.08},{"s":"TRN","t":110,"d":173.2},{"s":"TRN","t":111,"d":173.1},{"s":"TRN","t":112,"d":173.18},{"s":"TRN","t":113,"d":173.09},{"s":"TRN","t":114,"d":173.2},{"s":"TRN","t":115,"d":173.1},{"s":"TRN","t":116,"d":173.18},{"s":"TRN","t":117,"d":173.1},{"s":"TRN","t":118,"d":173.17},{"s":"TRN","t":119.5,"d":173.14},
{"s":"CAR","t":-9.3,"d":175.67},{"s":"CAR","t":-7,"d":175.64},{"s":"CAR","t":-4.5,"d":175.7},{"s":"CAR","t":-2.2,"d":175.65},{"s":"CAR","t":-0.6,"d":174.1},{"s":"CAR","t":-0.2,"d":176.5},{"s":"CAR","t":0.2,"d":174.8},{"s":"CAR","t":0.6,"d":176.2},{"s":"CAR","t":1,"d":175.2},{"s":"CAR","t":1.4,"d":176.0},{"s":"CAR","t":1.8,"d":175.35},{"s":"CAR","t":2.2,"d":175.95},{"s":"CAR","t":2.6,"d":175.4},{"s":"CAR","t":3,"d":175.9},{"s":"CAR","t":3.5,"d":175.45},{"s":"CAR","t":4,"d":175.9},{"s":"CAR","t":4.5,"d":175.5},{"s":"CAR","t":5,"d":175.85},{"s":"CAR","t":5.5,"d":175.45},{"s":"CAR","t":6,"d":175.88},{"s":"CAR","t":6.6,"d":175.5},{"s":"CAR","t":7.2,"d":175.85},{"s":"CAR","t":7.8,"d":175.52},{"s":"CAR","t":8.4,"d":175.82},{"s":"CAR","t":9,"d":175.5},{"s":"CAR","t":9.6,"d":175.84},{"s":"CAR","t":10.2,"d":175.55},{"s":"CAR","t":10.8,"d":175.8},{"s":"CAR","t":11.4,"d":175.56},{"s":"CAR","t":12,"d":175.78},{"s":"CAR","t":12.6,"d":175.58},{"s":"CAR","t":13.2,"d":175.76},{"s":"CAR","t":14.5,"d":175.6},{"s":"CAR","t":16,"d":175.74},{"s":"CAR","t":17.5,"d":175.62},{"s":"CAR","t":19,"d":175.72},{"s":"CAR","t":20.5,"d":175.6},{"s":"CAR","t":22,"d":175.75},{"s":"CAR","t":23.5,"d":175.62},{"s":"CAR","t":25,"d":175.72},{"s":"CAR","t":26.5,"d":175.63},{"s":"CAR","t":28,"d":175.71},{"s":"CAR","t":29.5,"d":175.62},{"s":"CAR","t":31,"d":175.73},{"s":"CAR","t":32.5,"d":175.6},{"s":"CAR","t":34,"d":175.72},{"s":"CAR","t":35.5,"d":175.63},{"s":"CAR","t":37,"d":175.7},{"s":"CAR","t":38.5,"d":175.62},{"s":"CAR","t":40,"d":175.72},{"s":"CAR","t":41.5,"d":175.64},{"s":"CAR","t":43,"d":175.7},{"s":"CAR","t":44.5,"d":175.62},{"s":"CAR","t":46,"d":175.72},{"s":"CAR","t":47.5,"d":175.63},{"s":"CAR","t":49,"d":175.71},{"s":"CAR","t":50.5,"d":175.62},{"s":"CAR","t":52,"d":175.72},{"s":"CAR","t":53.5,"d":175.64},{"s":"CAR","t":55,"d":175.7},{"s":"CAR","t":56.5,"d":175.63},{"s":"CAR","t":58,"d":175.71},{"s":"CAR","t":59.5,"d":175.62},{"s":"CAR","t":61,"d":175.72},{"s":"CAR","t":62.5,"d":175.64},{"s":"CAR","t":64,"d":175.7},{"s":"CAR","t":65.5,"d":175.63},{"s":"CAR","t":67,"d":175.71},{"s":"CAR","t":68.5,"d":175.62},{"s":"CAR","t":70,"d":175.72},{"s":"CAR","t":71.5,"d":175.64},{"s":"CAR","t":73,"d":175.7},{"s":"CAR","t":74.5,"d":175.62},{"s":"CAR","t":76,"d":175.73},{"s":"CAR","t":77.5,"d":175.63},{"s":"CAR","t":79,"d":175.71},{"s":"CAR","t":80.5,"d":175.62},{"s":"CAR","t":82,"d":175.72},{"s":"CAR","t":83.5,"d":175.64},{"s":"CAR","t":85,"d":175.7},{"s":"CAR","t":86.5,"d":175.63},{"s":"CAR","t":88,"d":175.71},{"s":"CAR","t":89.5,"d":175.62},{"s":"CAR","t":91,"d":175.72},{"s":"CAR","t":92.5,"d":175.64},{"s":"CAR","t":94,"d":175.7},{"s":"CAR","t":95.5,"d":175.62},{"s":"CAR","t":97,"d":175.72},{"s":"CAR","t":98.5,"d":175.63},{"s":"CAR","t":100,"d":175.71},{"s":"CAR","t":101.5,"d":175.65},{"s":"CAR","t":102.3,"d":175.4},{"s":"CAR","t":102.8,"d":175.95},{"s":"CAR","t":103.3,"d":175.35},{"s":"CAR","t":103.8,"d":175.98},{"s":"CAR","t":104.3,"d":175.45},{"s":"CAR","t":104.8,"d":175.9},{"s":"CAR","t":105.3,"d":175.5},{"s":"CAR","t":105.8,"d":175.82},{"s":"CAR","t":106.3,"d":175.6},{"s":"CAR","t":107,"d":175.76},{"s":"CAR","t":108,"d":175.58},{"s":"CAR","t":109,"d":175.78},{"s":"CAR","t":110,"d":175.6},{"s":"CAR","t":111,"d":175.74},{"s":"CAR","t":112,"d":175.6},{"s":"CAR","t":113,"d":175.76},{"s":"CAR","t":114,"d":175.58},{"s":"CAR","t":115,"d":175.75},{"s":"CAR","t":116,"d":175.62},{"s":"CAR","t":117,"d":175.74},{"s":"CAR","t":118,"d":175.6},{"s":"CAR","t":119,"d":175.75},{"s":"CAR","t":120,"d":175.62},{"s":"CAR","t":121,"d":175.72},{"s":"CAR","t":122,"d":175.6},{"s":"CAR","t":123,"d":175.74},{"s":"CAR","t":123.5,"d":175.67}
]},
"mark":{"type":"line","stroke":"#111","strokeWidth":1.5,"strokeJoin":"round","clip":true},
"encoding":{
"x":{"field":"t","type":"quantitative","scale":{"domain":[-57.9,123.5],"nice":false,"zero":false},"axis":null},
"y":{"field":"d","type":"quantitative","scale":{"domain":[120,180],"reverse":true,"nice":false,"zero":false},
"axis":{"orient":"left","values":[120,122,124,126,128,130,132,134,136,138,140,142,144,146,148,150,152,154,156,158,160,162,164,166,168,170,172,174,176,178,180],
"title":"DISTANCE,  deg.","domain":false,"grid":false,
"tickSize":{"condition":{"test":"datum.value % 10 === 0","value":-26},"value":-15},
"tickWidth":2,"tickColor":"#111",
"labelExpr":"datum.value % 10 === 0 ? datum.label : ''","labelPadding":44,"labelFontSize":30,"labelFont":"DejaVu Sans","labelColor":"#111","labelOverlap":false,"labelFlush":false,
"labelOffset":{"condition":{"test":"datum.value === 180","value":-5},"value":0},
"titleFontSize":35,"titleFont":"DejaVu Sans","titleFontWeight":"normal","titleColor":"#111","titlePadding":-5}},
"detail":{"field":"s","type":"nominal"}}},
{"data":{"values":[{"lab":"GSC","d":125.46},{"lab":"DUG","d":126.86},{"lab":"GOL","d":131.91},{"lab":"LUB","d":137.57},{"lab":"PEL","d":140.98},{"lab":"WES","d":143.7},{"lab":"ATL","d":148.45},{"lab":"ARE","d":157.29},{"lab":"NNA","d":159.55},{"lab":"BHP","d":166.95},{"lab":"SJG","d":168.3},{"lab":"BOG","d":172.2},{"lab":"TRN","d":173.6},{"lab":"CAR","d":175.67}]},
"mark":{"type":"text","align":"left","baseline":"middle","fontSize":29,"font":"DejaVu Sans","color":"#111"},
"encoding":{
"x":{"datum":-52,"type":"quantitative","scale":{"domain":[-57.9,123.5],"nice":false,"zero":false},"axis":null},
"y":{"field":"d","type":"quantitative","scale":{"domain":[120,180],"reverse":true,"nice":false,"zero":false},
"axis":{"orient":"right","values":[120,122,124,126,128,130,132,134,136,138,140,142,144,146,148,150,152,154,156,158,160,162,164,166,168,170,172,174,176,178,180],"labels":false,"title":null,"domain":false,"grid":false,
"tickSize":{"condition":{"test":"datum.value % 10 === 0","value":-26},"value":-15},"tickWidth":2,"tickColor":"#111"}},
"text":{"field":"lab"}}},
{"data":{"values":[{"txt":"JAVA\u00a0\u00a0\u00a0\u00a0SEA\u00a0\u00a0\u00a0B","d":122.14}]},
"mark":{"type":"text","align":"left","baseline":"middle","fontSize":40,"font":"DejaVu Sans","color":"#111"},
"encoding":{"x":{"datum":40,"type":"quantitative","scale":{"domain":[-57.9,123.5],"nice":false,"zero":false},"axis":null},
"y":{"field":"d","type":"quantitative","scale":{"domain":[120,180],"reverse":true,"nice":false,"zero":false},"axis":null},
"text":{"field":"txt"}}},
{"data":{"values":[{"txt":"Jan.\u00a0\u00a030,\u00a0\u00a01968","d":123.83},{"txt":"03\u00a0\u00a044\u00a0\u00a024.8\u00a0\u00a0GMT","d":125.32},{"txt":"6.10°S\u00a0\u00a0\u00a0113.36°E","d":126.74},{"txt":"H=599\u00a0km\u00a0\u00a0\u00a0\u00a0M=6","d":128.27}]},
"mark":{"type":"text","align":"left","baseline":"middle","fontSize":30,"font":"DejaVu Sans","color":"#111"},
"encoding":{"x":{"datum":40,"type":"quantitative","scale":{"domain":[-57.9,123.5],"nice":false,"zero":false},"axis":null},
"y":{"field":"d","type":"quantitative","scale":{"domain":[120,180],"reverse":true,"nice":false,"zero":false},"axis":null},
"text":{"field":"txt"}}},
{"data":{"values":[{"t":45.9,"t2":45.9,"d":131.41,"d2":132.56},{"t":46.2,"t2":61.9,"d":131.98,"d2":131.98},{"t":86.8,"t2":105.9,"d":131.98,"d2":131.98},{"t":105.9,"t2":105.9,"d":131.35,"d2":132.56},{"t":-0.8,"t2":-0.8,"d":176.9,"d2":178.2},{"t":-0.8,"t2":7.7,"d":178.2,"d2":178.2}]},
"mark":{"type":"rule","stroke":"#111","strokeWidth":2},
"encoding":{"x":{"field":"t","type":"quantitative","scale":{"domain":[-57.9,123.5],"nice":false,"zero":false},"axis":null},
"x2":{"field":"t2"},
"y":{"field":"d","type":"quantitative","scale":{"domain":[120,180],"reverse":true,"nice":false,"zero":false},"axis":null},
"y2":{"field":"d2"}}},
{"data":{"values":[{"t":49.2,"d":131.98,"dir":"left"},{"t":103.0,"d":131.98,"dir":"right"},{"t":-0.8,"d":176.97,"dir":"up"}]},
"mark":{"type":"point","filled":true,"color":"#111","opacity":1,"size":256,"strokeWidth":0},
"encoding":{"x":{"field":"t","type":"quantitative","scale":{"domain":[-57.9,123.5],"nice":false,"zero":false},"axis":null},
"y":{"field":"d","type":"quantitative","scale":{"domain":[120,180],"reverse":true,"nice":false,"zero":false},"axis":null},
"shape":{"field":"dir","type":"nominal","scale":{"domain":["left","right","up"],"range":["M-1,0L1,-0.35L1,0.35Z","M1,0L-1,-0.45L-1,0.45Z","M0,-1L0.32,1L-0.32,1Z"]},"legend":null}}},
{"data":{"values":[{"txt":"1","t":63.3,"d":132.5}]},
"mark":{"type":"text","align":"center","baseline":"alphabetic","fontSize":32,"font":"DejaVu Sans","color":"#111"},
"encoding":{"x":{"field":"t","type":"quantitative","scale":{"domain":[-57.9,123.5],"nice":false,"zero":false},"axis":null},
"y":{"field":"d","type":"quantitative","scale":{"domain":[120,180],"reverse":true,"nice":false,"zero":false},"axis":null},
"text":{"field":"txt"}}},
{"data":{"values":[{"txt":"min.","t":73.1,"d":132.45}]},
"mark":{"type":"text","align":"left","baseline":"alphabetic","fontSize":27,"font":"DejaVu Sans","color":"#111"},
"encoding":{"x":{"field":"t","type":"quantitative","scale":{"domain":[-57.9,123.5],"nice":false,"zero":false},"axis":null},
"y":{"field":"d","type":"quantitative","scale":{"domain":[120,180],"reverse":true,"nice":false,"zero":false},"axis":null},
"text":{"field":"txt"}}},
{"data":{"values":[{"txt":"DF BASELINE","t":10.1,"d":178.22}]},
"mark":{"type":"text","align":"left","baseline":"middle","fontSize":31,"font":"DejaVu Sans","color":"#111"},
"encoding":{"x":{"field":"t","type":"quantitative","scale":{"domain":[-57.9,123.5],"nice":false,"zero":false},"axis":null},
"y":{"field":"d","type":"quantitative","scale":{"domain":[120,180],"reverse":true,"nice":false,"zero":false},"axis":null},
"text":{"field":"txt"}}}
]
}
